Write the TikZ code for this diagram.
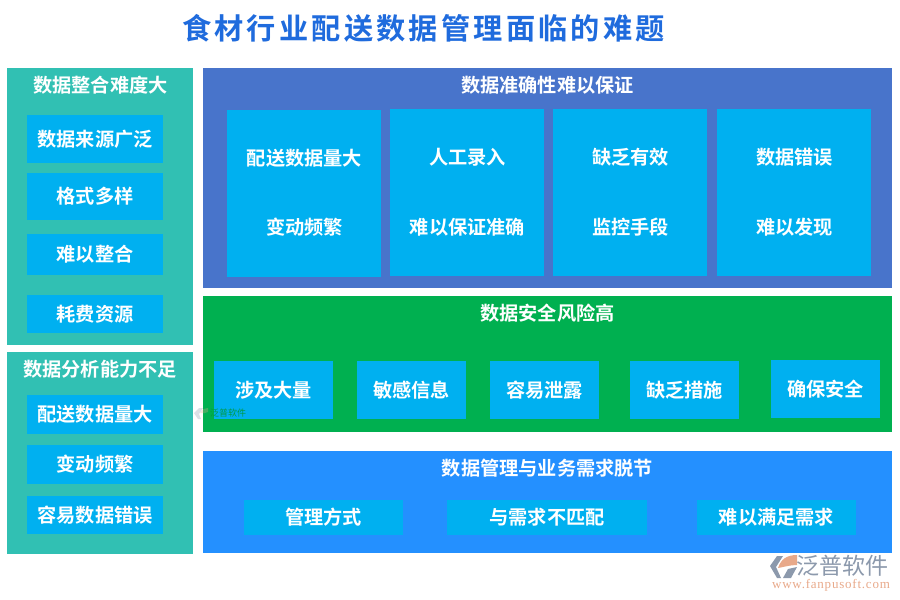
\documentclass[tikz,border=0pt]{standalone}
\usepackage{fontspec}
\usepackage{xcolor}
\setmainfont{Noto Sans CJK SC}[BoldFont={* Bold}]
\newfontfamily\titlefont{Noto Sans CJK SC Bold}[LetterSpace=11]
\newfontfamily\logofont{Noto Sans CJK SC}
\newfontfamily\urlfont{Liberation Serif}[LetterSpace=6]
\definecolor{tealpanel}{HTML}{31C0B3}
\definecolor{skybox}{HTML}{00B0F0}
\definecolor{bluepanel}{HTML}{4874CB}
\definecolor{greenpanel}{HTML}{00B050}
\definecolor{needpanel}{HTML}{2490FF}
\definecolor{titleblue}{HTML}{1F6BDD}
\definecolor{logogray}{HTML}{8C99AC}
\definecolor{logoorange}{HTML}{E8A98A}

\begin{document}
\begin{tikzpicture}[
  x=1pt, y=-1pt,
  every node/.style={inner sep=0pt, outer sep=0pt},
  size/.style 2 args={minimum width=#1pt, minimum height=#2pt},
  panel/.style={anchor=north west},
  skyrect/.style={anchor=north west, fill=skybox},
  headtext/.style={text=white, font=\fontsize{19.2}{21}\selectfont\bfseries},
  celltext/.style={text=white, font=\fontsize{19.2}{21}\selectfont\bfseries}
]
\useasboundingbox (0,0) rectangle (900,600);
\node[text=titleblue, font=\fontsize{29.2}{32}\titlefont] (title) at (423.5,28) {食材行业配送数据管理面临的难题};

% left column
\node[panel, fill=tealpanel, size={186}{277}] (merge) at (7,68) {};
\node[headtext] (mergehead) at (100.5,85) {数据整合难度大};
\node[skyrect, size={136}{48}, celltext] (m1) at (27,115) {数据来源广泛};
\node[skyrect, size={136}{47}, celltext] (m2) at (27,173) {格式多样};
\node[skyrect, size={136}{41}, celltext] (m3) at (27,234) {难以整合};
\node[skyrect, size={136}{38}, celltext] (m4) at (27,295) {耗费资源};

\node[panel, fill=tealpanel, size={186}{202}] (analysis) at (7,352) {};
\node[headtext] (analysishead) at (100,369) {数据分析能力不足};
\node[skyrect, size={136}{39}, celltext] (n1) at (27,395) {配送数据量大};
\node[skyrect, size={136}{39}, celltext] (n2) at (27,445) {变动频繁};
\node[skyrect, size={136}{38}, celltext] (n3) at (27,496) {容易数据错误};

% accuracy
\node[panel, fill=bluepanel, size={689}{220}] (accuracy) at (203,68) {};
\node[headtext] (accuracyhead) at (547.5,85) {数据准确性难以保证};
\node[skyrect, size={154}{167}] (a1) at (227,110) {};
\node[skyrect, size={154}{167}] (a2) at (390,109) {};
\node[skyrect, size={154}{167}] (a3) at (553,109) {};
\node[skyrect, size={154}{167}] (a4) at (717,109) {};
\node[celltext] (a1up) at (304.5,158.5) {配送数据量大};
\node[celltext] (a1low) at (304.5,227.5) {变动频繁};
\node[celltext] (a2up) at (467.5,157.5) {人工录入};
\node[celltext] (a2low) at (467.5,227.5) {难以保证准确};
\node[celltext] (a3up) at (630.5,157.5) {缺乏有效};
\node[celltext] (a3low) at (630.5,227.5) {监控手段};
\node[celltext] (a4up) at (794.5,157.5) {数据错误};
\node[celltext] (a4low) at (794.5,227.5) {难以发现};

% safety
\node[panel, fill=greenpanel, size={689}{136}] (safety) at (203,296) {};
\node[headtext] (safetyhead) at (547.5,313) {数据安全风险高};
\node[skyrect, size={119}{58}, celltext] (s1) at (214,361) {涉及大量};
\node[skyrect, size={109}{58}, celltext] (s2) at (357,361) {敏感信息};
\node[skyrect, size={109}{58}, celltext] (s3) at (490,361) {容易泄露};
\node[skyrect, size={109}{58}, celltext] (s4) at (630,361) {缺乏措施};
\node[skyrect, size={109}{58}, celltext] (s5) at (771,360) {确保安全};

% needs
\node[panel, fill=needpanel, size={689}{102}] (needs) at (203,451) {};
\node[headtext] (needshead) at (547.5,468) {数据管理与业务需求脱节};
\node[skyrect, size={159}{35}, celltext] (b1) at (244,500) {管理方式};
\node[skyrect, size={200}{35}, celltext] (b2) at (447,500) {与需求不匹配};
\node[skyrect, size={159}{35}, celltext] (b3) at (697,500) {难以满足需求};

% faint mark
\fill[logogray, opacity=.3] (194,413) -- (199,408) -- (203,408) -- (199,414) -- (201,419) -- (198,419) -- cycle;
\fill[logoorange, opacity=.3] (200,413) .. controls (202,409) and (205,408) .. (208,408) -- (208,412) .. controls (205,413) and (203,414) .. (200,413) -- cycle;
\node[text=greenpanel!88!black, font=\fontsize{9}{10}\logofont] (faintmark) at (228,413) {泛普软件};

% logo
\fill[logogray] (770,566) -- (777,556) -- (783,556) -- (776,567) -- (781,578) -- (777,578) -- cycle;
\fill[logoorange] (778,568) .. controls (781,559) and (787,555) .. (797,555) -- (797,565) .. controls (790,565) and (784,567) .. (778,568) -- cycle;
\fill[logogray] (783,578) -- (788,569) -- (797,567) -- (791,578) -- cycle;
\node[text=logogray, font=\fontsize{23}{24}\logofont] (logoname) at (842.5,566) {泛普软件};
\node[text=logoorange, font=\fontsize{13}{14}\urlfont] (logourl) at (831,585) {www.fanpusoft.com};
\end{tikzpicture}
\end{document}
